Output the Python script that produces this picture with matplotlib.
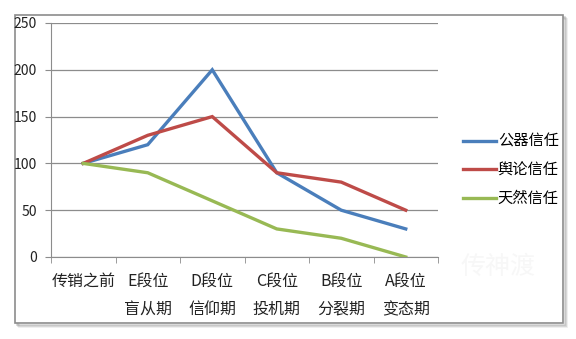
import numpy as np
import matplotlib.pyplot as plt
from matplotlib.patches import Rectangle

plt.rcParams['font.family'] = ['Noto Sans CJK SC', 'DejaVu Sans']

# stages and trust levels
stages = ["传销之前", "E段位\n盲从期", "D段位\n信仰期", "C段位\n投机期", "B段位\n分裂期", "A段位\n变态期"]
public_trust = [100, 120, 200, 90, 50, 30]
opinion_trust = [100, 130, 150, 90, 80, 50]
natural_trust = [100, 90, 60, 30, 20, 0]
series_names = ["公器信任", "舆论信任", "天然信任"]
series_colors = ["#4A7EBB", "#BE4B48", "#98B954"]

fig = plt.figure(figsize=(5.76, 3.39), dpi=100)
fig.patch.set_facecolor("white")

# outer chart frame with a soft shadow
W, H = 576, 339
for i, a in enumerate([0.35, 0.25, 0.15]):
    fig.patches.append(Rectangle(((17 + i) / W, 1 - (325 + i) / H), 548 / W, 308 / H,
                                 transform=fig.transFigure, facecolor="none",
                                 edgecolor="#808080", alpha=a, lw=1.2, zorder=0))
fig.patches.append(Rectangle((15 / W, 1 - 323 / H), 548 / W, 308 / H,
                             transform=fig.transFigure, facecolor="white",
                             edgecolor="#8c8c8c", lw=1.2, zorder=1))

ax = fig.add_axes([51 / W, 1 - 257 / H, (438 - 51) / W, (257 - 23) / H])
ax.set_zorder(5)
ax.set_facecolor("none")
x = np.arange(len(stages))
for vals, name, c in zip([public_trust, opinion_trust, natural_trust], series_names, series_colors):
    ax.plot(x, vals, color=c, lw=2.4, label=name, solid_joinstyle="miter", zorder=3)

ax.set_xlim(-0.5, len(stages) - 0.5)
ax.set_ylim(0, 250)
ax.set_yticks(np.arange(0, 251, 50))
ax.yaxis.grid(True, color="#8c8c8c", lw=0.9)
ax.set_axisbelow(True)
for s in ["top", "right"]:
    ax.spines[s].set_visible(False)
ax.spines["left"].set_color("#8c8c8c")
ax.spines["bottom"].set_color("#8c8c8c")

ax.set_xticks(x)
ax.set_xticklabels(stages, fontsize=11.5, linespacing=1.9, color="#222222")
ax.tick_params(axis="x", which="major", length=0, pad=11)
ax.set_xticks(np.arange(-0.5, len(stages), 1), minor=True)
ax.tick_params(axis="x", which="minor", length=4, color="#8c8c8c")
ax.tick_params(axis="y", length=4, color="#8c8c8c", labelsize=10, pad=6, labelcolor="#222222")
for lbl in ax.get_xticklabels():
    lbl.set_verticalalignment("top")

leg = ax.legend(loc="center left", bbox_to_anchor=(455 / W, 1 - 170 / H),
                bbox_transform=fig.transFigure, frameon=False, fontsize=11,
                handlelength=2.2, handletextpad=0.1, labelspacing=0.75, borderpad=0)

# faint watermark
fig.text(498 / W, 1 - 267 / H, "传神渡", fontsize=18, color="#f7f7f7", ha="center", va="center",
         zorder=6)

fig.savefig("out.png", dpi=100)
